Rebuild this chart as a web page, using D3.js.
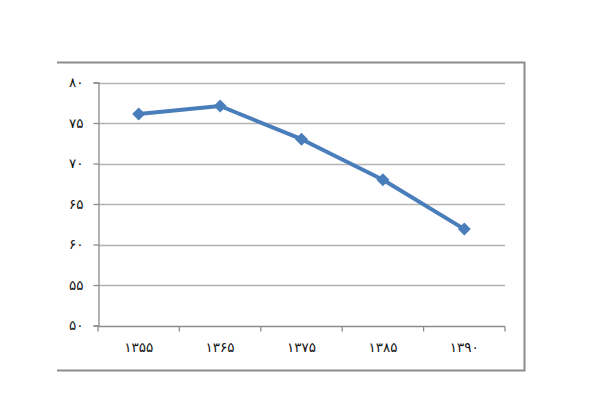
<!DOCTYPE html>
<html><head><meta charset="utf-8">
<script src="https://cdn.jsdelivr.net/npm/d3@7"></script>
<style>body{margin:0;background:#fff}svg{display:block}</style>
</head><body>
<svg id="c" width="600" height="418"></svg>
<script>
const categories = ["۱۳۵۵","۱۳۶۵","۱۳۷۵","۱۳۸۵","۱۳۹۰"];
const values = [76.1, 77.1, 73.0, 68.0, 61.9];
const yTicks = [50,55,60,65,70,75,80];
const yTickLabels = ["۵۰","۵۵","۶۰","۶۵","۷۰","۷۵","۸۰"];

const svg = d3.select("#c");
const L = 98, R = 505, T = 82.5, B = 325.5;
const x = d3.scaleBand().domain(categories).range([L, R]).padding(0);
const y = d3.scaleLinear().domain([50, 80]).range([B, T]);

// frame (top, right, bottom)
svg.append("path").attr("d", "M57,62.5H524.5V370.5H57")
  .attr("fill","none").attr("stroke","#8c8c8c").attr("stroke-width",2);

// gridlines
svg.append("g").selectAll("line").data(yTicks.filter(d=>d>50)).join("line")
  .attr("x1", L).attr("x2", R).attr("y1", d=>Math.round(y(d))+0.5).attr("y2", d=>Math.round(y(d))+0.5)
  .attr("stroke","#b3b3b3").attr("stroke-width",1.3);

// y axis
const yAxis = svg.append("g").attr("transform",`translate(${L+0.5},0)`)
  .call(d3.axisLeft(y).tickValues(yTicks).tickSize(5).tickPadding(10)
    .tickFormat((d,i)=>yTickLabels[i]));
yAxis.select(".domain").attr("stroke","#8c8c8c").attr("stroke-width",1.3);
yAxis.selectAll(".tick line").attr("stroke","#8c8c8c").attr("stroke-width",1.3);
yAxis.selectAll("text").attr("font-family","DejaVu Sans, sans-serif").attr("font-size",13.5).attr("fill","#111");

// x axis (ticks at category boundaries)
const xAxis = svg.append("g").attr("transform",`translate(0,${Math.round(B)+0.5})`);
xAxis.append("line").attr("x1",L).attr("x2",R).attr("stroke","#8c8c8c").attr("stroke-width",1.3);
const bounds = categories.map(c=>x(c)).concat([x(categories[categories.length-1])+x.bandwidth()]);
xAxis.selectAll("line.t").data(bounds).join("line").attr("class","t")
  .attr("x1",d=>d).attr("x2",d=>d).attr("y1",0).attr("y2",5)
  .attr("stroke","#8c8c8c").attr("stroke-width",1.3);
xAxis.selectAll("text").data(categories).join("text")
  .attr("x",d=>x(d)+x.bandwidth()/2).attr("y",21).attr("dy","0.35em")
  .attr("text-anchor","middle").attr("font-family","DejaVu Sans, sans-serif")
  .attr("font-size",13.5).attr("fill","#111").text(d=>d);

// line
const cx = d=>x(d)+x.bandwidth()/2;
svg.append("path").datum(values)
  .attr("d", d3.line().x((d,i)=>cx(categories[i])).y(d=>y(d)))
  .attr("fill","none").attr("stroke","#4a7ebb").attr("stroke-width",4).attr("stroke-linejoin","round");

svg.append("g").selectAll("path").data(values).join("path")
  .attr("transform",(d,i)=>`translate(${cx(categories[i])},${y(d)})`)
  .attr("d","M0,-6.5L6.5,0L0,6.5L-6.5,0Z").attr("fill","#4a7ebb");
</script>
</body></html>
